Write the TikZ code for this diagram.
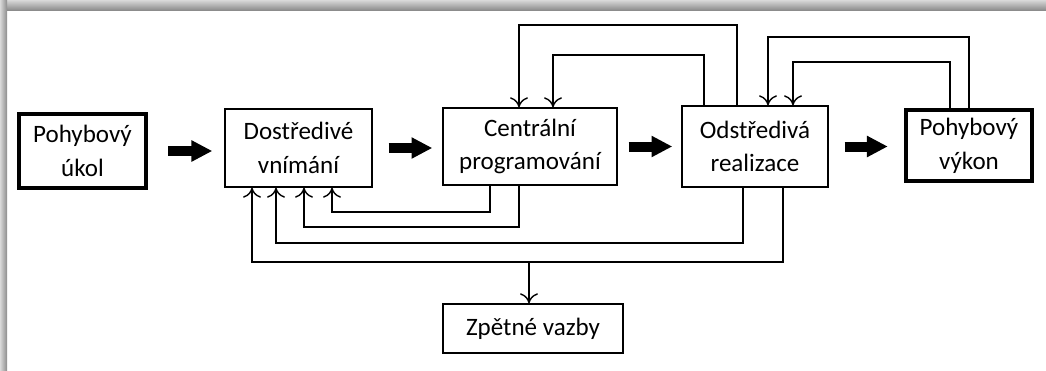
\documentclass[tikz,border=0pt]{standalone}
\usepackage{fontspec}
\setmainfont{Carlito}
\usepackage{tikz}
\usetikzlibrary{arrows.meta,calc,positioning}

\begin{document}
\begin{tikzpicture}[x=0.25mm, y=-0.25mm,
    every node/.style={font=\fontsize{17.8pt}{24pt}\selectfont, align=center, inner sep=0pt},
    blok/.style={draw, line width=1pt},
    krajni/.style={draw, line width=3.2pt},
    bigarrow/.style={line width=2.5mm, -{Triangle[length=5.2mm,width=5mm]}},
    fb/.style={line width=1pt, -{Computer Modern Rightarrow[length=2.5mm,width=4.5mm]}}]
  \useasboundingbox (0,0) rectangle (1046,370);
  % stin okraje
  \shade[top color=black!15, bottom color=black!45] (0,0) rectangle (1046,10);
  \shade[left color=black!15, right color=black!45] (0,0) rectangle (7,370);

  % bloky
  \node[krajni, minimum width=31.75mm, minimum height=18.5mm] (uk) at (82.5,151) {Pohybový\\úkol};
  \node[blok, minimum width=36.75mm, minimum height=19.5mm] (dv) at (298.5,148) {Dostředivé\\vnímání};
  \node[blok, minimum width=43.5mm, minimum height=19.25mm] (cp) at (530,146.5) {Centrální\\programování};
  \node[blok, minimum width=36.5mm, minimum height=20.25mm] (or) at (755,146.5) {Odstředivá\\realizace};
  \node[krajni, minimum width=31.5mm, minimum height=17.75mm] (vy) at (969,145.5) {Pohybový\\výkon};
  \node[blok, minimum width=45mm, minimum height=12.25mm] (zv) at (533,328.5) {Zpětné vazby};

  % hlavni tok
  \draw[bigarrow] ($(uk.east)+(20,0)$) -- ($(uk.east -| dv.west)+(-12,0)$);
  \draw[bigarrow] ($(dv.east)+(16,0)$) -- ($(dv.east -| cp.west)+(-10,0)$);
  \draw[bigarrow] ($(cp.east)+(11,0)$) -- ($(cp.east -| or.west)+(-9,0)$);
  \draw[bigarrow] ($(or.east)+(16,0)$) -- ($(or.east -| vy.west)+(-16,0)$);

  % zpetne vazby nahore
  \draw[fb] (737,0 |- or.north) |- (519,25) -- (519,0 |- cp.north);
  \draw[fb] (704,0 |- or.north) |- (553,55) -- (553,0 |- cp.north);
  \draw[fb] (969,0 |- vy.north) |- (768,37) -- (768,0 |- or.north);
  \draw[fb] (950,0 |- vy.north) |- (793,62) -- (793,0 |- or.north);

  % zpetne vazby dole
  \draw[fb] (490,0 |- cp.south) |- (332,212) -- (332,0 |- dv.south);
  \draw[fb] (519,0 |- cp.south) |- (304,227) -- (304,0 |- dv.south);
  \draw[fb] (743,0 |- or.south) |- (276,243) -- (276,0 |- dv.south);
  \draw[fb] (783,0 |- or.south) |- (252,262) -- (252,0 |- dv.south);
  \coordinate (split) at (529,262);
  \draw[fb] (split) -- (split |- zv.north);
\end{tikzpicture}
\end{document}
